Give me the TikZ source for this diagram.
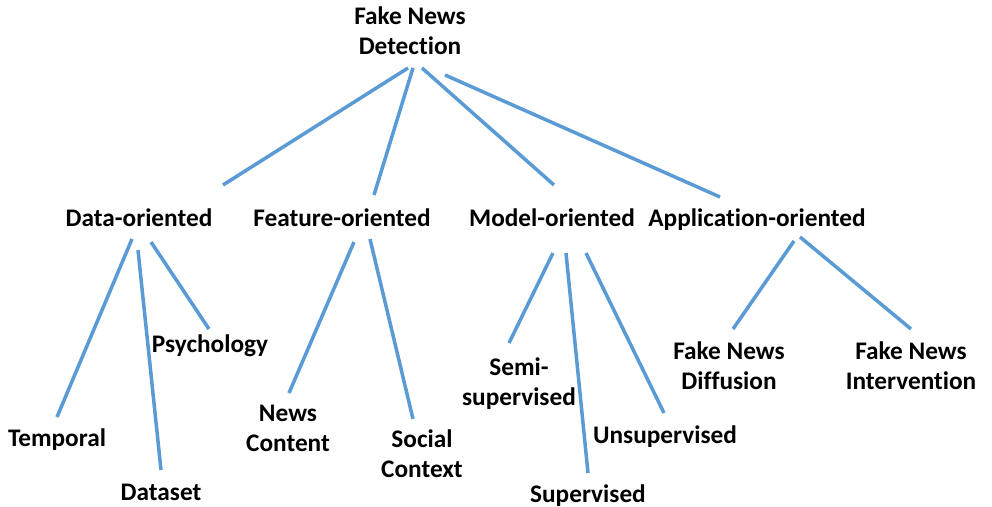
\documentclass[tikz,border=0pt]{standalone}
\usepackage{fontspec}
\setmainfont{Carlito}[Ligatures=NoCommon]
\usetikzlibrary{calc}
\definecolor{linkblue}{RGB}{91,155,213}
\begin{document}
\begin{tikzpicture}[x=0.02cm,y=-0.02cm,
  lbl/.style={font=\fontsize{14.4}{17}\selectfont\bfseries, align=center, inner sep=0pt},
  single/.style={lbl, text height=10.8pt, text depth=3.6pt},
  link/.style={draw=linkblue, line width=2pt}]
\useasboundingbox (0,0) rectangle (992,507);

% ROOT ========================================================================
  \node[lbl] (root) at (410,31) {Fake News\\Detection};

% FIRST LEVEL =================================================================
  \node[single] (data)    at (139,220.5) {Data-oriented};
  \node[single] (feature) at (342,220.5) {Feature-oriented};
  \node[single] (model)   at (552,220.5) {Model-oriented};
  \node[single] (app)     at (757,220.5) {Application-oriented};

% SECOND LEVEL ================================================================
  \node[single] (temporal) at (57,440.5)  {Temporal};
  \node[single] (dataset)  at (161,494.5) {Dataset};
  \node[single] (psych)    at (210,346.5) {Psychology};
  \node[lbl]    (news)     at (288,428)   {News\\Content};
  \node[lbl]    (social)   at (422,454)   {Social\\Context};
  \node[lbl]    (semi)     at (519,383.5) {Semi-\\supervised};
  \node[single] (super)    at (588,496)   {Supervised};
  \node[single] (unsup)    at (665,437)   {Unsupervised};
  \node[lbl]    (diff)     at (729,366)   {Fake News\\Diffusion};
  \node[lbl]    (interv)   at (911,366)   {Fake News\\Intervention};

% LINKS =======================================================================
  \draw[link] ($(root)+(-2,37)$) -- ($(data)+(84,-35.5)$);
  \draw[link] ($(root)+(3,37)$)  -- ($(feature)+(32,-25.5)$);
  \draw[link] ($(root)+(12,37)$) -- ($(model)+(2,-35.5)$);
  \draw[link] ($(root)+(35,44)$) -- ($(app)+(-37,-23.5)$);

  \draw[link] ($(data)+(-7,18.5)$) -- ($(temporal)+(0,-23.5)$);
  \draw[link] ($(data)+(-1,29.5)$) -- ($(dataset)+(0,-24.5)$);
  \draw[link] ($(data)+(12,21.5)$) -- ($(psych)+(-1,-17.5)$);

  \draw[link] ($(feature)+(12,21.5)$) -- ($(news)+(1,-35)$);
  \draw[link] ($(feature)+(28,18.5)$) -- ($(social)+(-9,-35)$);

  \draw[link] ($(model)+(1,32.5)$)  -- ($(semi)+(-10,-40.5)$);
  \draw[link] ($(model)+(14,32.5)$) -- ($(super)+(0,-23)$);
  \draw[link] ($(model)+(34,32.5)$) -- ($(unsup)+(-1,-24)$);

  \draw[link] ($(app)+(37,20.5)$) -- ($(diff)+(4,-37)$);
  \draw[link] ($(app)+(43,16.5)$) -- ($(interv)+(0,-37)$);
\end{tikzpicture}
\end{document}
